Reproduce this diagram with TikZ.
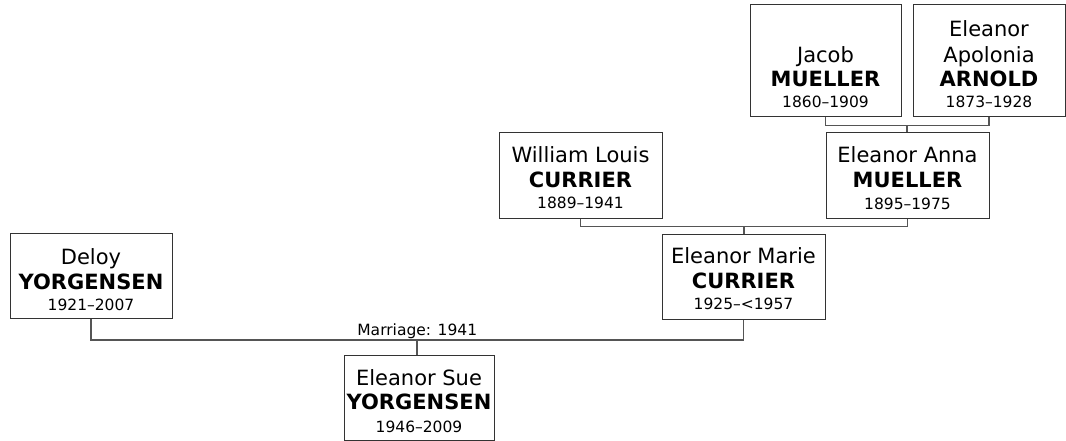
\documentclass[tikz,border=0pt]{standalone}
\usepackage{fontspec}
\setmainfont{DejaVu Sans}
\usetikzlibrary{calc}
\definecolor{boxcol}{HTML}{333333}
\definecolor{linkcol}{HTML}{555555}
\tikzset{
  pbox/.style 2 args={draw=boxcol, line width=1pt, fill=white, inner sep=0pt,
    minimum width=#1, minimum height=#2},
  gname/.style={font=\fontsize{21}{25}\selectfont, anchor=base, inner sep=0pt},
  sname/.style={font=\fontsize{21}{25}\selectfont\bfseries, anchor=base, inner sep=0pt},
  dates/.style={font=\fontsize{15.5}{18}\selectfont, anchor=base, inner sep=0pt},
  link/.style={draw=linkcol, line width=1.6pt},
}
\begin{document}
\begin{tikzpicture}[x=1pt,y=-1pt]
\useasboundingbox (0,0) rectangle (1066,441);

% boxes
\node[pbox={151pt}{112pt}] (jacob)   at (825.5,61)  {};
\node[pbox={152pt}{112pt}] (arnold)  at (989,61)    {};
\node[pbox={163pt}{85pt}]  (anna)    at (907.5,175.5) {};
\node[pbox={163pt}{85pt}]  (william) at (580.5,175.5) {};
\node[pbox={163pt}{85pt}]  (marie)   at (743.5,276.5) {};
\node[pbox={162pt}{85pt}]  (deloy)   at (91,276)    {};
\node[pbox={150pt}{85pt}]  (sue)     at (419,397.5) {};

% texts
\node[gname] (jacobA) at ([yshift=55pt]jacob.south) {Jacob};
\node[sname] (jacobB) at ([yshift=31pt]jacob.south) {MUELLER};
\node[dates] (jacobC) at ([yshift=9.5pt]jacob.south) {1860–1909};

\node[gname] (arnoldA) at ([yshift=81pt]arnold.south) {Eleanor};
\node[gname] (arnoldB) at ([yshift=55pt]arnold.south) {Apolonia};
\node[sname] (arnoldC) at ([yshift=31pt]arnold.south) {ARNOLD};
\node[dates] (arnoldD) at ([yshift=9.5pt]arnold.south) {1873–1928};

\node[gname] (annaA) at ([yshift=56pt]anna.south) {Eleanor Anna};
\node[sname] (annaB) at ([yshift=31.5pt]anna.south) {MUELLER};
\node[dates] (annaC) at ([yshift=9.5pt]anna.south) {1895–1975};

\node[gname] (williamA) at ([yshift=56pt]william.south) {William Louis};
\node[sname] (williamB) at ([yshift=31.5pt]william.south) {CURRIER};
\node[dates] (williamC) at ([yshift=10pt]william.south) {1889–1941};

\node[gname] (marieA) at ([yshift=56pt]marie.south) {Eleanor Marie};
\node[sname] (marieB) at ([yshift=31.5pt]marie.south) {CURRIER};
\node[dates] (marieC) at ([yshift=10pt]marie.south) {1925–<1957};

\node[gname] (deloyA) at ([yshift=55pt]deloy.south) {Deloy};
\node[sname] (deloyB) at ([yshift=30pt]deloy.south) {YORGENSEN};
\node[dates] (deloyC) at ([yshift=8.5pt]deloy.south) {1921–2007};

\node[gname] (sueA) at ([yshift=55pt]sue.south) {Eleanor Sue};
\node[sname] (sueB) at ([yshift=31.5pt]sue.south) {YORGENSEN};
\node[dates] (sueC) at ([yshift=8.5pt]sue.south) {1946–2009};

% connectors: Jacob + Arnold -> Anna
\coordinate (jm) at ($(jacob.south)!0.5!(arnold.south)+(0,8)$);
\draw[link] (jacob.south) |- (jm) -| (arnold.south);
\draw[link] (jm) -- (jm |- anna.north);

% William + Anna -> Marie
\coordinate (wm) at ($(william.south)!0.5!(anna.south)+(0,8)$);
\draw[link] (william.south) |- (wm) -| (anna.south);
\draw[link] (wm) -- (wm |- marie.north);

% Deloy + Marie -> Sue
\coordinate (dm) at ($(deloy.south)!0.5!(marie.south)+(0,21)$);
\draw[link] (deloy.south) |- (dm) -| (marie.south);
\draw[link] (dm) -- (dm |- sue.north);
\node[dates] (mlab) at ([yshift=4.5pt]dm) {Marriage: 1941};
\end{tikzpicture}
\end{document}
